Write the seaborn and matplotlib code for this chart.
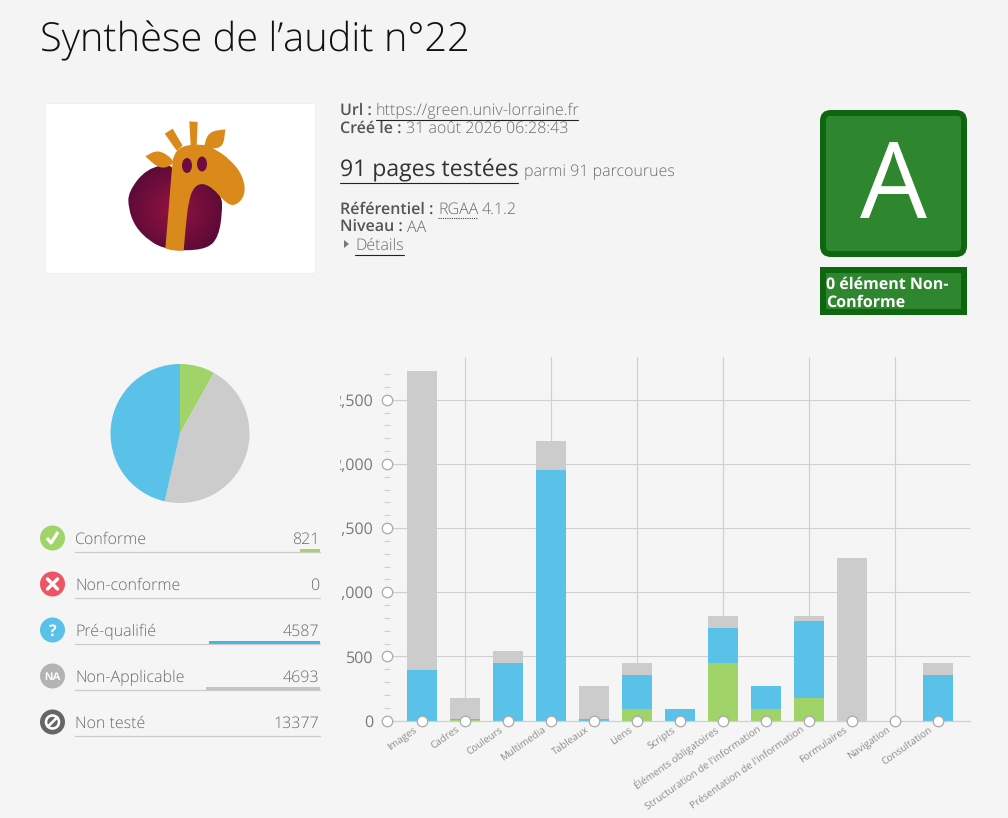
#!/usr/bin/python3
import numpy as np
import seaborn as sns
from matplotlib import pyplot as plt
from matplotlib.patches import Circle, Ellipse, FancyBboxPatch, PathPatch, Polygon, Rectangle
from matplotlib.path import Path
from matplotlib.transforms import Bbox, ScaledTranslation

categories = ["Images", "Cadres", "Couleurs", "Multimedia", "Tableaux", "Liens", "Scripts",
              "Éléments obligatoires", "Structuration de l'information",
              "Présentation de l'information", "Formulaires", "Navigation", "Consultation"]
conforme = [0, 4, 0, 0, 0, 90, 0, 448, 90, 175, 0, 0, 0]
prequalifie = [394, 4, 448, 1952, 10, 265, 90, 272, 179, 600, 0, 0, 355]
non_applicable = [2330, 167, 94, 226, 259, 93, 0, 94, 0, 39, 1267, 0, 93]

y_major = [0, 500, 1000, 1500, 2000, 2500]
y_major_labels = ["0", "500", "1,000", "1,500", "2,000", "2,500"]
y_minor = [v for v in range(100, 2800, 100) if v % 500 != 0]

pie_values = [821, 0, 4587, 4693]

status_labels = ["Conforme", "Non-conforme", "Pré-qualifié", "Non-Applicable", "Non testé"]
status_counts = [821, 0, 4587, 4693, 13377]

GREEN = "#A0D468"
RED = "#ED5565"
BLUE = "#5AC1E8"
GREY = "#CCCCCC"
DARK_GREEN = "#0F6610"
MID_GREEN = "#2E862E"
ORANGE = "#DA8A1B"
LIGHT = "#6A6A6A"
BOLD = "#555555"

sns.set_style("white")
plt.rcParams["font.family"] = ["Open Sans", "DejaVu Sans"]
plt.rcParams["text.hinting"] = "no_hinting"


def px(size):
    return size * 72 / 100


def logo_xy(points):
    return [(x / 3, y / 3 + 80) for x, y in points]


def smooth_path(points):
    # closed quadratic curve through midpoints, a repeated point makes a corner
    pts = logo_xy(points)
    start = ((pts[-1][0] + pts[0][0]) / 2, (pts[-1][1] + pts[0][1]) / 2)
    verts = [start]
    codes = [Path.MOVETO]
    for i, p in enumerate(pts):
        q = pts[(i + 1) % len(pts)]
        verts += [p, ((p[0] + q[0]) / 2, (p[1] + q[1]) / 2)]
        codes += [Path.CURVE3, Path.CURVE3]
    return Path(verts, codes)


def draw_logo(ax):
    ax.add_patch(Rectangle((45, 103), 270, 170, fc="white", ec="#EFEFEF", lw=0.7))

    body = smooth_path([(520, 250), (440, 265), (385, 335), (385, 385), (405, 440), (450, 485), (495, 506),
                        (550, 513), (625, 505), (655, 470), (667, 400), (665, 340), (600, 300), (520, 300)])
    yy, xx = np.mgrid[0:1:100j, 0:1:100j]
    dist = np.clip(np.hypot(xx - 0.5, yy - 0.5) / 0.55, 0, 1)
    img = np.zeros((100, 100, 3))
    inner = np.array([0x94, 0x13, 0x40]) / 255
    outer = np.array([0x5A, 0x0A, 0x38]) / 255
    for c in range(3):
        img[:, :, c] = inner[c] + (outer[c] - inner[c]) * dist
    im = ax.imshow(img, extent=(128, 222, 253, 165), aspect="auto", zorder=2)
    im.set_clip_path(PathPatch(body, transform=ax.transData))

    giraffe = [(496, 505), (496, 505), (505, 400), (516, 260), (520, 225), (545, 197), (610, 192), (645, 207),
               (690, 238), (728, 285), (738, 345), (702, 382), (668, 360), (640, 325), (605, 308), (578, 325),
               (565, 370), (558, 430), (551, 512), (551, 512), (520, 512)]
    shapes = [giraffe,
              [(436, 229), (436, 229), (475, 208), (520, 238), (518, 255), (480, 268)],
              [(611, 203), (611, 203), (625, 155), (676, 148), (676, 148), (670, 200), (635, 207)]]
    for shape in shapes:
        ax.add_patch(PathPatch(smooth_path(shape), fc=ORANGE, ec="none", zorder=3))
    for horn in ([(494, 161), (518, 146), (548, 197), (530, 212)], [(568, 124), (593, 126), (590, 197), (572, 197)]):
        ax.add_patch(Polygon(logo_xy(horn), fc=ORANGE, ec="none", zorder=3))
    for cx, cy in [(187, 165.5), (202, 164)]:
        ax.add_patch(Ellipse((cx, cy), 10, 15, fc="#6E0C3F", ec="none", zorder=4))


def draw_header(ax):
    ax.text(40, 51, "Synthèse de l’audit n°22", fontsize=px(39.8), color="#111111", fontweight="light")

    ax.text(340, 115, "Url :", fontsize=px(16), color=BOLD, fontweight="semibold")
    ax.text(376, 115, "https://green.univ-lorraine.fr", fontsize=px(16.1), color=LIGHT, fontweight="light")
    ax.plot([376, 578], [119.5, 119.5], color="#222222", lw=0.8)
    ax.text(340, 133, "Créé le :", fontsize=px(16), color=BOLD, fontweight="semibold")
    ax.text(406, 133, "31 août 2026 06:28:43", fontsize=px(16), color=LIGHT, fontweight="light")

    ax.text(340, 176, "91 pages testées", fontsize=px(23), color="#333333")
    ax.plot([340, 518], [182.5, 182.5], color="#222222", lw=0.8)
    ax.text(524, 176, "parmi 91 parcourues", fontsize=px(16), color=LIGHT, fontweight="light")

    ax.text(340, 214, "Référentiel :", fontsize=px(16), color=BOLD, fontweight="semibold")
    ax.text(438, 214, "RGAA", fontsize=px(16), color=LIGHT, fontweight="light")
    ax.plot([438, 477], [218, 218], color="#444444", lw=0.8, ls=(0, (1, 1)))
    ax.text(482, 214, "4.1.2", fontsize=px(16), color=LIGHT, fontweight="light")
    ax.text(340, 232, "Niveau :", fontsize=px(16), color=BOLD, fontweight="semibold")
    ax.text(407, 232, "AA", fontsize=px(16), color=LIGHT, fontweight="light")
    ax.add_patch(Polygon([(344, 240), (344, 248), (349, 244)], fc="#777777", ec="none"))
    ax.text(355, 250, "Détails", fontsize=px(16), color=LIGHT, fontweight="light")
    ax.plot([355, 404], [254.5, 254.5], color="#222222", lw=0.8)


def draw_grade(ax):
    ax.add_patch(FancyBboxPatch((820, 110), 147, 147, boxstyle="round,pad=0,rounding_size=11", fc=DARK_GREEN,
                                ec="none"))
    ax.add_patch(FancyBboxPatch((826, 116), 135, 135, boxstyle="round,pad=0,rounding_size=4", fc=MID_GREEN,
                                ec="none"))
    ax.text(893.5, 218, "A", fontsize=px(106), color="white", ha="center")

    ax.add_patch(Rectangle((820, 267), 147, 48, fc=DARK_GREEN, ec="none"))
    ax.add_patch(Rectangle((826, 273), 135, 36, fc=MID_GREEN, ec="none"))
    ax.text(826, 289, "0 élément Non-", fontsize=px(16), color="white", fontweight="bold")
    ax.text(826, 307, "Conforme", fontsize=px(16), color="white", fontweight="bold")


def draw_status_icon(ax, kind, cx, cy):
    if kind == 0:
        ax.add_patch(Circle((cx, cy), 12.5, fc=GREEN, ec="none"))
        ax.plot([cx - 5.5, cx - 1.5, cx + 5.5], [cy, cy + 5, cy - 6], color="white", lw=px(3.2), solid_capstyle="butt")
    elif kind == 1:
        ax.add_patch(Circle((cx, cy), 12.5, fc=RED, ec="none"))
        ax.plot([cx - 5, cx + 5], [cy - 5, cy + 5], color="white", lw=px(3.4))
        ax.plot([cx - 5, cx + 5], [cy + 5, cy - 5], color="white", lw=px(3.4))
    elif kind == 2:
        ax.add_patch(Circle((cx, cy), 12.5, fc=BLUE, ec="none"))
        ax.text(cx, cy + 5.5, "?", fontsize=px(16), color="white", ha="center", fontweight="bold")
    elif kind == 3:
        ax.add_patch(Circle((cx, cy), 12.5, fc="#B3B3B3", ec="none"))
        ax.text(cx, cy + 4, "NA", fontsize=px(11.5), color="white", ha="center", fontweight="bold",
                family=["Liberation Sans", "DejaVu Sans"])
    else:
        ax.add_patch(Circle((cx, cy), 12.5, fc="#666666", ec="none"))
        ax.add_patch(Circle((cx, cy), 6.5, fc="none", ec="white", lw=px(2.6)))
        ax.plot([cx - 4.6, cx + 4.6], [cy + 4.6, cy - 4.6], color="white", lw=px(2.6))


def draw_status_list(ax):
    total = sum(status_counts[:4])
    for i, (label, count) in enumerate(zip(status_labels, status_counts)):
        y = 538 + 46 * i
        draw_status_icon(ax, i, 52.5, y)
        ax.text(75, y + 6, label, fontsize=px(16), color=LIGHT, fontweight="light")
        ax.text(319.5, y + 6, str(count), fontsize=px(16), color=LIGHT, ha="right", fontweight="light")
        ax.plot([75, 320], [y + 13.5, y + 13.5], color=GREY, lw=0.9)
        bar_color = [GREEN, RED, "#44B5E3", "#C4C4C4", None][i]
        if bar_color and count:
            width = 245 * count / total
            ax.add_patch(Rectangle((320 - width, y + 11), width, 3, fc=bar_color, ec="none"))


def draw_pie(fig):
    ax = fig.add_axes([110.5 / 1008, 1 - 503 / 818, 139 / 1008, 139 / 818])
    ax.pie(pie_values, colors=[GREEN, RED, GREY, BLUE], startangle=90, counterclock=False, radius=1,
           wedgeprops={"linewidth": 0})
    ax.set_xlim(-1, 1)
    ax.set_ylim(-1, 1)


def draw_bars(fig):
    left, right, top, bottom = 387, 970, 356.5, 720.5
    ax = fig.add_axes([left / 1008, 1 - bottom / 818, (right - left) / 1008, (bottom - top) / 818])
    ax.patch.set_visible(False)

    green = np.array(conforme)
    blue = np.array(prequalifie)
    grey = np.array(non_applicable)
    sns.barplot(x=categories, y=green, color=GREEN, saturation=1, width=0.7, linewidth=0, ax=ax, zorder=2)
    sns.barplot(x=categories, y=blue, bottom=green, color=BLUE, saturation=1, width=0.7, linewidth=0, ax=ax, zorder=2)
    sns.barplot(x=categories, y=grey, bottom=green + blue, color=GREY, saturation=1, width=0.7, linewidth=0, ax=ax,
                zorder=2)

    ax.set_xlim((left - 422) / 43, (right - 422) / 43)
    ax.set_ylim(0, (bottom - top) / 64.15 * 500)
    ax.set_xlabel("")
    ax.set_ylabel("")
    # ticks go over the bars, the grid lines stay under them
    ax.set_axisbelow(False)

    for v in y_major[1:]:
        ax.axhline(v, color="#CFCFCF", lw=0.8, zorder=1)
    for i in range(1, len(categories), 2):
        ax.axvline(i, color="#CFCFCF", lw=0.8, zorder=1)

    sns.despine(ax=ax, left=True, top=True, right=True)
    ax.spines["bottom"].set_color("#CFCFCF")
    ax.spines["bottom"].set_linewidth(0.9)

    ax.set_yticks(y_major, y_major_labels)
    ax.set_yticks(y_minor, minor=True)
    ax.set_xticks(range(len(categories)), categories)
    ax.tick_params(axis="y", which="both", left=True)
    ax.tick_params(axis="x", which="major", bottom=True)
    ax.tick_params(axis="y", which="major", length=0, pad=px(14), labelsize=px(16), labelcolor="#787878")
    ax.tick_params(axis="x", which="major", length=0, pad=px(4), labelsize=px(10), labelcolor="#8A8A8A")

    for tick in ax.yaxis.get_major_ticks() + ax.xaxis.get_major_ticks():
        tick.tick1line.set_marker("o")
        tick.tick1line.set_markersize(px(10.5))
        tick.tick1line.set_markerfacecolor("white")
        tick.tick1line.set_markeredgecolor("#AAAAAA")
        tick.tick1line.set_markeredgewidth(0.9)
    for tick in ax.yaxis.get_minor_ticks():
        tick.tick1line.set_marker("_")
        tick.tick1line.set_markersize(px(6))
        tick.tick1line.set_markeredgecolor("#CFCFCF")
        tick.tick1line.set_markeredgewidth(0.8)

    # the long labels are cut by the edge of the chart
    for label in ax.get_yticklabels():
        label.set_clip_box(Bbox([[340, 0], [1008, 818]]))
        label.set_clip_on(True)

    shift = ScaledTranslation(-9 / 100, 0, fig.dpi_scale_trans)
    for label in ax.get_xticklabels():
        label.set_rotation(35)
        label.set_ha("right")
        label.set_va("top")
        label.set_rotation_mode("anchor")
        label.set_transform(label.get_transform() + shift)


def main():
    fig = plt.figure(figsize=(10.08, 8.18), dpi=100, facecolor="#F5F5F5")

    ax = fig.add_axes([0, 0, 1, 1])
    ax.add_patch(Rectangle((0, 0), 1008, 325, fc="#F4F4F4", ec="none"))
    draw_logo(ax)
    draw_header(ax)
    draw_grade(ax)
    draw_status_list(ax)
    ax.set_xlim(0, 1008)
    ax.set_ylim(818, 0)
    ax.axis("off")

    draw_pie(fig)
    draw_bars(fig)

    plt.savefig("out.png", dpi=100, facecolor=fig.get_facecolor())


if __name__ == '__main__':
    main()
